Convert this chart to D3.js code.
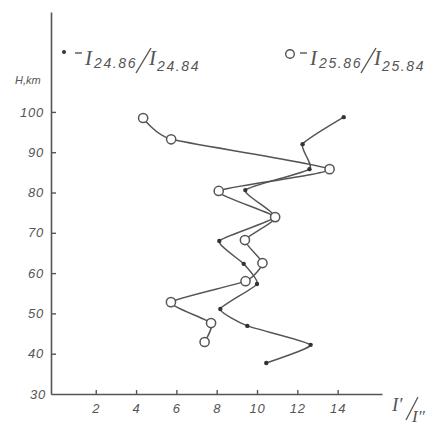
<!DOCTYPE html>
<html><head><meta charset="utf-8">
<script src="https://cdn.jsdelivr.net/npm/d3@7"></script>
<style>body{margin:0;background:#fff}svg{display:block}text{font-family:"Liberation Sans",Arial,sans-serif;font-style:italic;fill:#555}.serif{font-family:"Liberation Serif","DejaVu Serif",serif}</style>
</head><body>
<svg id="c" width="448" height="426"></svg>
<script>
// Filled dots: I24.86/I24.84  (ratio, height km)
const dotRatio  = [14.3, 12.26, 12.6, 9.42, 10.87, 8.13, 9.34, 10.0, 8.18, 9.52, 12.66, 10.46];
const dotHeight = [98.7, 92.0, 85.8, 80.6, 73.9, 68.0, 62.3, 57.3, 51.1, 46.9, 42.2, 37.7];
// Open circles: I25.86/I25.84
const circRatio  = [4.35, 5.74, 13.6, 8.1, 10.9, 9.4, 10.27, 9.43, 5.73, 7.72, 7.4];
const circHeight = [98.5, 93.2, 85.8, 80.4, 73.9, 68.2, 62.5, 58.0, 52.8, 47.6, 42.9];
const xTicks = [2, 4, 6, 8, 10, 12, 14];
const yTicks = [30, 40, 50, 60, 70, 80, 90, 100];
const legendLabels = [["24.86", "24.84"], ["25.86", "25.84"]];

const svg = d3.select("#c");
const col = "#555";
const x = d3.scaleLinear().domain([-0.22, 16.2]).range([51, 382]);
const y = d3.scaleLinear().domain([30, 124.8]).range([394, 12]);

// axes
const xAxis = d3.axisBottom(x).tickValues(xTicks).tickSize(-4).tickSizeOuter(0).tickPadding(10).tickFormat(d3.format("d"));
const gx = svg.append("g").attr("transform", "translate(0,394)").call(xAxis);
const yAxis = d3.axisLeft(y).tickValues(yTicks.filter(d => d > 30)).tickSize(-5).tickSizeOuter(0).tickPadding(6).tickFormat(d3.format("d"));
const gy = svg.append("g").attr("transform", "translate(51,0)").call(yAxis);
[gx, gy].forEach(g => {
  g.select(".domain").attr("stroke", col).attr("stroke-width", 1.6);
  g.selectAll(".tick line").attr("stroke", col).attr("stroke-width", 1.4);
  g.selectAll(".tick text").attr("fill", col).style("font-size", "13px").style("letter-spacing", "0.8px");
});
gy.selectAll(".tick text").attr("dx", "-1");
svg.append("text").attr("x", 46).attr("y", 399).attr("text-anchor", "end").style("font-size", "13px").style("letter-spacing", "0.8px").text(yTicks[0]);

// lines
const line = d3.line().x(d => x(d[0])).y(d => y(d[1])).curve(d3.curveCardinal.tension(0.5));
const dots = dotRatio.map((v, i) => [v, dotHeight[i]]);
const circs = circRatio.map((v, i) => [v, circHeight[i]]);
svg.append("path").datum(dots).attr("d", line).attr("fill", "none").attr("stroke", col).attr("stroke-width", 1.5);
svg.append("path").datum(circs).attr("d", line).attr("fill", "none").attr("stroke", col).attr("stroke-width", 1.5);
svg.selectAll(".dot").data(dots).enter().append("circle").attr("cx", d => x(d[0])).attr("cy", d => y(d[1])).attr("r", 2.2).attr("fill", "#333");
svg.selectAll(".circ").data(circs).enter().append("circle").attr("cx", d => x(d[0])).attr("cy", d => y(d[1])).attr("r", 4.6).attr("fill", "#fff").attr("stroke", col).attr("stroke-width", 1.5);

// axis titles
svg.append("text").attr("x", 15).attr("y", 84).style("font-size", "11px").text("H,km");
svg.append("text").attr("class", "serif").attr("x", 392).attr("y", 411).style("font-size", "19px").text("I′");
svg.append("line").attr("x1", 418).attr("y1", 397).attr("x2", 406).attr("y2", 420).attr("stroke", col).attr("stroke-width", 1.3);
svg.append("text").attr("class", "serif").attr("x", 412).attr("y", 422).style("font-size", "17px").text("I″");

// legends
function legend(x0, labels) {
  // x0 = left of dash
  svg.append("line").attr("x1", x0).attr("x2", x0 + 7).attr("y1", 53).attr("y2", 53).attr("stroke", col).attr("stroke-width", 1.4);
  svg.append("text").attr("class", "serif").attr("x", x0 + 10).attr("y", 65).style("font-size", "21px").text("I");
  svg.append("text").attr("x", x0 + 19).attr("y", 68).style("font-size", "14px").style("letter-spacing", "1.6px").text(labels[0]);
  svg.append("line").attr("x1", x0 + 76).attr("y1", 48).attr("x2", x0 + 61).attr("y2", 73).attr("stroke", col).attr("stroke-width", 1.4);
  svg.append("text").attr("class", "serif").attr("x", x0 + 74).attr("y", 65).style("font-size", "21px").text("I");
  svg.append("text").attr("x", x0 + 82).attr("y", 71).style("font-size", "14px").style("letter-spacing", "1.6px").text(labels[1]);
}
svg.append("circle").attr("cx", 64).attr("cy", 52).attr("r", 2).attr("fill", "#333");
legend(75, legendLabels[0]);
svg.append("circle").attr("cx", 290).attr("cy", 54).attr("r", 4.3).attr("fill", "#fff").attr("stroke", col).attr("stroke-width", 1.4);
legend(300, legendLabels[1]);
</script>
</body></html>
